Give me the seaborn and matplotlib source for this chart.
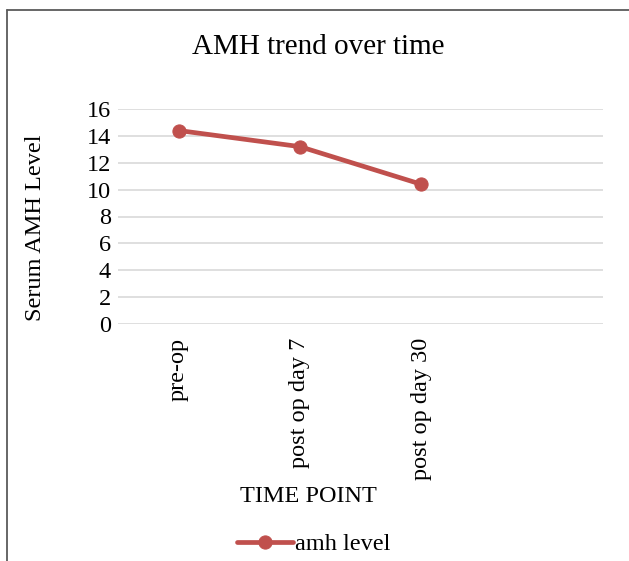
import pandas as pd
import matplotlib.pyplot as plt
import seaborn as sns
from matplotlib.lines import Line2D

time_points = ['pre-op', 'post op day 7', 'post op day 30']
amh_level = [14.4, 13.2, 10.4]

sns.set_style('white')
plt.rcParams['font.family'] = ['Liberation Serif', 'DejaVu Serif']
plt.rcParams['text.color'] = 'black'

df = pd.DataFrame({'time_point': time_points, 'amh': amh_level})

W, H = 629, 561
fig = plt.figure(figsize=(W / 100, H / 100), dpi=100)
ax = fig.add_axes([118 / W, 1 - 324 / H, (603 - 118) / W, (324 - 109) / H])

line_color = '#C0504D'
sns.lineplot(data=df, x='time_point', y='amh', ax=ax, color=line_color, linewidth=3.4,
             marker='o', markersize=9.5, markeredgecolor=line_color, label='amh level', sort=False)

fs = 17.5
ax.set_ylim(0, 16)
ax.set_yticks(range(0, 17, 2))
ax.set_xlim(-0.5, 3.5)
ax.set_xticks(range(len(time_points)))
ax.set_xticklabels(time_points, rotation=90, va='top', ha='center')
ax.tick_params(axis='both', length=0, labelsize=fs, colors='black')
ax.tick_params(axis='x', pad=10)
ax.tick_params(axis='y', pad=5)
ax.grid(axis='y', color='#D9D9D9', linewidth=1.2)
ax.set_axisbelow(True)
for s in ax.spines.values():
    s.set_visible(False)
ax.set_xlabel('')
ax.set_ylabel('')

fig.text(318 / W, 1 - 47 / H, 'AMH trend over time', ha='center', va='center', fontsize=21)
fig.text(36 / W, 1 - 228 / H, 'Serum AMH Level', ha='center', va='center', rotation=90, fontsize=fs)
fig.text(308 / W, 1 - 497 / H, 'TIME POINT', ha='center', va='center', fontsize=fs)

ax.legend_.remove()
handles, labels = ax.get_legend_handles_labels()
fig.legend(handles, labels, loc='center', bbox_to_anchor=(314 / W, 1 - 544 / H), frameon=False,
           fontsize=fs, handlelength=2.3, handletextpad=0.1)

# chart area border (only top and left edges are visible)
fig.add_artist(Line2D([7 / W, 1], [1 - 9.5 / H, 1 - 9.5 / H], transform=fig.transFigure,
                      color='#5a5a5a', linewidth=1.3))
fig.add_artist(Line2D([7 / W, 7 / W], [0, 1 - 9.5 / H], transform=fig.transFigure,
                      color='#5a5a5a', linewidth=1.3))

fig.savefig('out.png', dpi=100)
